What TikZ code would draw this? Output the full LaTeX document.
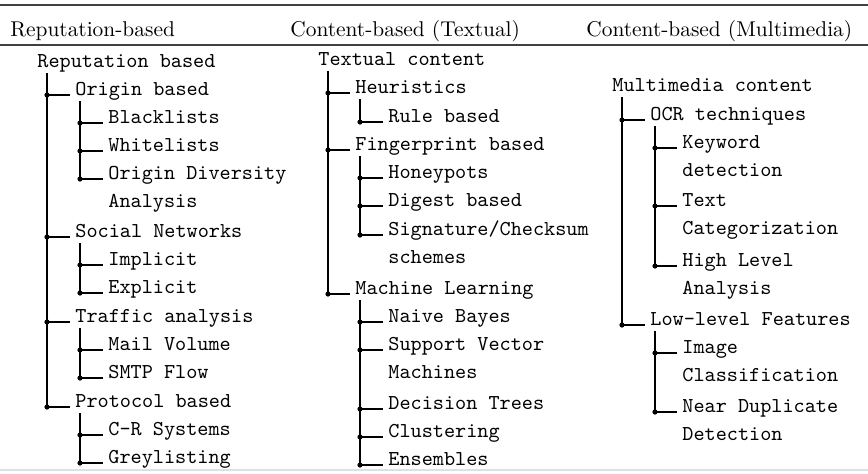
\documentclass[tikz,border=0pt]{standalone}
\usepackage{tikz}
\usetikzlibrary{positioning}

% two-line entry whose baseline is the first line
\newcommand{\treelines}[2]{\vtop{\hbox{#1}\hbox{#2}}}

\begin{document}
\begin{tikzpicture}[
    x=0.5pt, y=-0.5pt,
    head/.style={anchor=base west, inner sep=2.5pt, font=\fontsize{10.7}{13}\selectfont\rmfamily},
    item/.style={anchor=base west, inner sep=2.5pt,
                 font=\fontsize{10.6}{14}\selectfont\ttfamily},
    rule/.style={line width=1.2pt, black!75},
    branch/.style={line width=0.7pt},
    junction/.style={circle, fill, inner sep=0pt, minimum size=2.6pt}
  ]
    \useasboundingbox (0,0) rectangle (868,473);
    % table rules
    \draw[rule] (0,5) -- (868,5);
    \draw[rule] (0,45) -- (868,45);
    \draw[black!12, line width=0.6pt] (0,470) -- (868,470);
    % headers
    \node[head] (hrep) at (5,36) {Reputation-based};
    \node[head] (htext) at (285,36) {Content-based (Textual)};
    \node[head] (hmm) at (581,36) {Content-based (Multimedia)};

    % reputation-based
    \node[item] (rep) at (32,67) {Reputation based};
    \node[item] (orig) at (70,95) {Origin based};
    \node[item] (black) at (103,123) {Blacklists};
    \node[item] (white) at (103,151) {Whitelists};
    \node[item] (odiv) at (103,179) {\treelines{Origin Diversity}{Analysis}};
    \node[item] (social) at (70,237) {Social Networks};
    \node[item] (impl) at (103,265) {Implicit};
    \node[item] (expl) at (103,293) {Explicit};
    \node[item] (traffic) at (70,322) {Traffic analysis};
    \node[item] (mail) at (103,350) {Mail Volume};
    \node[item] (smtp) at (103,378) {SMTP Flow};
    \node[item] (proto) at (70,407) {Protocol based};
    \node[item] (crsys) at (103,435) {C-R Systems};
    \node[item] (grey) at (103,463) {Greylisting};

    % content-based, textual
    \node[item] (txt) at (313,65) {Textual content};
    \node[item] (heur) at (350,93) {Heuristics};
    \node[item] (rulebased) at (383,122) {Rule based};
    \node[item] (finger) at (350,150) {Fingerprint based};
    \node[item] (honey) at (383,178) {Honeypots};
    \node[item] (digest) at (383,206) {Digest based};
    \node[item] (sig) at (383,235) {\treelines{Signature/Checksum}{schemes}};
    \node[item] (ml) at (350,294) {Machine Learning};
    \node[item] (bayes) at (383,322) {Naive Bayes};
    \node[item] (svm) at (383,350) {\treelines{Support Vector}{Machines}};
    \node[item] (dtree) at (383,409) {Decision Trees};
    \node[item] (clust) at (383,437) {Clustering};
    \node[item] (ens) at (383,465) {Ensembles};

    % content-based, multimedia
    \node[item] (media) at (607,91) {Multimedia content};
    \node[item] (ocr) at (645,120) {OCR techniques};
    \node[item] (kw) at (677,148) {\treelines{Keyword}{detection}};
    \node[item] (tcat) at (677,206) {\treelines{Text}{Categorization}};
    \node[item] (high) at (677,266) {\treelines{High Level}{Analysis}};
    \node[item] (low) at (645,325) {Low-level Features};
    \node[item] (imgc) at (677,353) {\treelines{Image}{Classification}};
    \node[item] (neardup) at (677,412) {\treelines{Near Duplicate}{Detection}};

    % first level branches
    \foreach \p/\c in {rep/orig, rep/social, rep/traffic, rep/proto,
                       txt/heur, txt/finger, txt/ml, media/ocr, media/low}
      \draw[branch] ([xshift=7.5pt, yshift=-3pt]\p.base west) |- (\c.base west)
        node[junction, pos=0.5] {};
    % second level branches
    \foreach \p/\c in {orig/black, orig/white, orig/odiv, social/impl, social/expl,
                       traffic/mail, traffic/smtp, proto/crsys, proto/grey,
                       heur/rulebased, finger/honey, finger/digest, finger/sig,
                       ml/bayes, ml/svm, ml/dtree, ml/clust, ml/ens,
                       ocr/kw, ocr/tcat, ocr/high, low/imgc, low/neardup}
      \draw[branch] ([xshift=5pt, yshift=-3pt]\p.base west) |- (\c.base west)
        node[junction, pos=0.5] {};
  \end{tikzpicture}
\end{document}
